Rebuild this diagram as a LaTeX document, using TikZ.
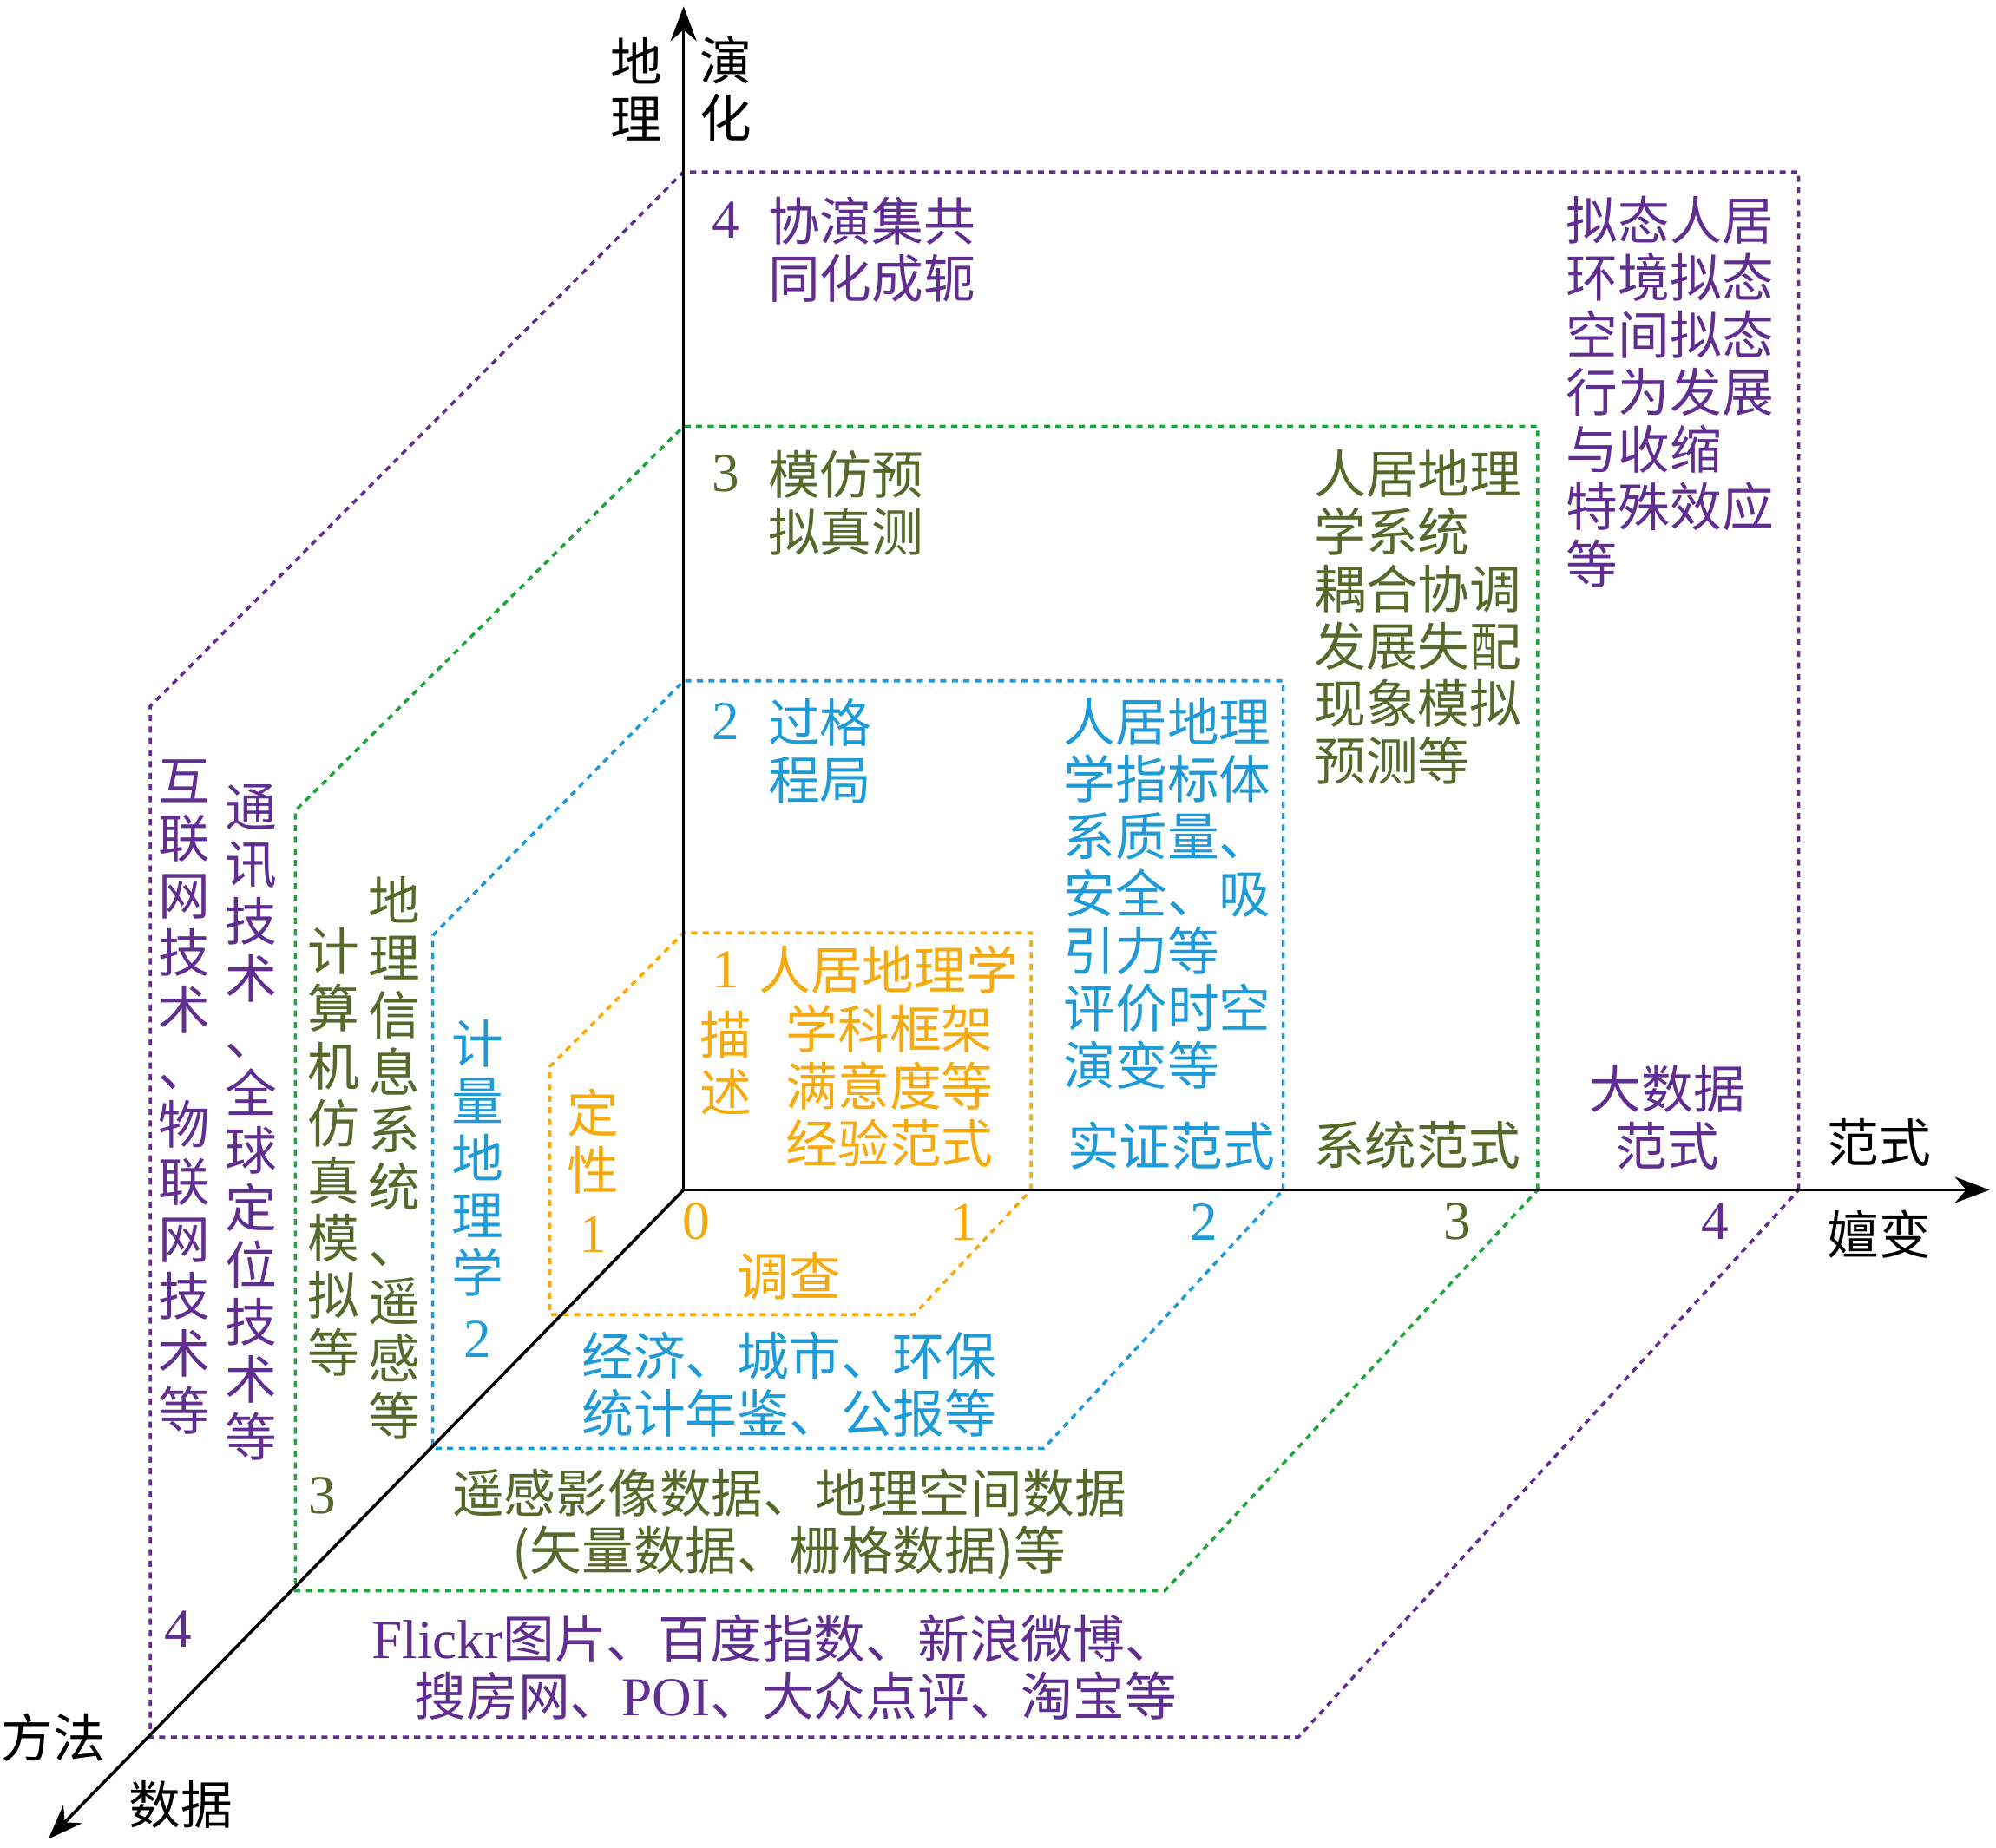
\documentclass[tikz,border=0pt]{standalone}
\usepackage{fontspec}
\setmainfont{Liberation Serif}
\newfontfamily\cjk{Noto Sans CJK SC}
\usetikzlibrary{arrows.meta}
\definecolor{pur}{RGB}{96,45,145}
\definecolor{olv}{RGB}{88,104,42}
\definecolor{grn}{RGB}{30,165,60}
\definecolor{blu}{RGB}{30,155,215}
\definecolor{org}{RGB}{245,170,15}
\newcommand{\fsz}{\fontsize{17pt}{18.8pt}\selectfont}
\newcommand{\lat}[1]{{\fontsize{18pt}{18.8pt}\selectfont\rmfamily #1}}

\begin{document}
\begin{tikzpicture}[x=0.1467mm, y=-0.1467mm,
  txt/.style={font=\fsz\cjk, inner sep=0pt},
  num/.style={font=\fontsize{18pt}{20pt}\selectfont\rmfamily, inner sep=0pt},
  lvl/.style={line width=1pt, dash pattern=on 2pt off 1.8pt},
  axis/.style={line width=1pt, -{Stealth[length=4mm,width=3mm]}}]
\useasboundingbox (0,0) rectangle (1568,1452);
% level 1
\draw[lvl, org] (810,935) -- (810,733) -- (537,733) -- (432,838) -- (432,1033) -- (718,1033) -- cycle;
\node[num, org] (o0) at (547,960) {0};
\node[num, org] (o1x) at (757,960) {1};
\node[num, org] (o1d) at (466,970) {1};
\node[num, org] (o1y) at (570,762) {1};
\node[txt, org] (o1t) at (698,762) {人居地理学};
\node[txt, org, align=left, anchor=west] (o1b) at (617,853) {学科框架\\满意度等\\经验范式};
\node[txt, org, align=center] (o1m) at (570,835) {描\\述};
\node[txt, org, align=center] (o1l) at (466,897) {定\\性};
\node[txt, org] (o1f) at (620,1003) {调查};
% level 2
\draw[lvl, blu] (1008,935) -- (1008,535) -- (537,535) -- (340,735) -- (340,1138) -- (820,1138) -- cycle;
\node[num, blu] (b2x) at (946,960) {2};
\node[num, blu] (b2d) at (375,1052) {2};
\node[num, blu] (b2y) at (570,567) {2};
\node[txt, blu, align=left, anchor=west] (b2t) at (603,590) {过格\\程局};
\node[txt, blu, align=left, anchor=west] (b2r) at (835,702) {人居地理\\学指标体\\系质量、\\安全、吸\\引力等\\评价时空\\演变等};
\node[txt, blu] (b2p) at (920,900) {实证范式};
\node[txt, blu, align=center] (b2l) at (375,910) {计\\量\\地\\理\\学};
\node[txt, blu, align=center] (b2f) at (620,1088) {经济、城市、环保\\统计年鉴、公报等};
% level 3
\draw[lvl, grn] (1208,935) -- (1208,335) -- (537,335) -- (232,637) -- (232,1250) -- (915,1250) -- cycle;
\node[num, olv] (g3x) at (1145,960) {3};
\node[num, olv] (g3d) at (253,1175) {3};
\node[num, olv] (g3y) at (570,372) {3};
\node[txt, olv, align=left, anchor=west] (g3t) at (603,395) {模仿预\\拟真测};
\node[txt, olv, align=left, anchor=west] (g3r) at (1032,485) {人居地理\\学系统\\耦合协调\\发展失配\\现象模拟\\预测等};
\node[txt, olv] (g3p) at (1113,900) {系统范式};
\node[txt, olv, align=center] (g3a) at (310,910) {地\\理\\信\\息\\系\\统\\、\\遥\\感\\等};
\node[txt, olv, align=center] (g3b) at (262,905) {计\\算\\机\\仿\\真\\模\\拟\\等};
\node[txt, olv, align=center] (g3f) at (620,1198) {遥感影像数据、地理空间数据\\(矢量数据、栅格数据)等};
% level 4
\draw[lvl, pur] (1413,935) -- (1413,135) -- (537,135) -- (118,555) -- (118,1365) -- (1020,1365) -- cycle;
\node[num, pur] (p4x) at (1347,960) {4};
\node[num, pur] (p4d) at (140,1280) {4};
\node[num, pur] (p4y) at (570,173) {4};
\node[txt, pur, align=left, anchor=west] (p4t) at (603,196) {协演集共\\同化成轭};
\node[txt, pur, align=left, anchor=west] (p4r) at (1230,308) {拟态人居\\环境拟态\\空间拟态\\行为发展\\与收缩\\特殊效应\\等};
\node[txt, pur, align=center] (p4p) at (1310,878) {大数据\\范式};
\node[txt, pur, align=center] (p4a) at (197,882) {通\\讯\\技\\术\\、\\全\\球\\定\\位\\技\\术\\等};
\node[txt, pur, align=center] (p4b) at (145,862) {互\\联\\网\\技\\术\\、\\物\\联\\网\\技\\术\\等};
\node[txt, pur, align=right, anchor=east] (p4f) at (925,1310) {\lat{Flickr}图片、百度指数、新浪微博、\\搜房网、\lat{POI}、大众点评、淘宝等};
% axes
\coordinate (O) at (537,935);
\coordinate (ytop) at (537,5);
\coordinate (xend) at (1563,935);
\coordinate (dend) at (38,1445);
\draw[axis] (O) -- (ytop);
\draw[axis] (O) -- (xend);
\draw[axis] (O) -- (dend);
\node[txt, align=center] (geo) at (500,70) {地\\理};
\node[txt, align=center] (evo) at (570,70) {演\\化};
\node[txt] (para) at (1476,898) {范式};
\node[txt] (shan) at (1476,970) {嬗变};
\node[txt] (meth) at (42,1365) {方法};
\node[txt] (data) at (142,1418) {数据};
\end{tikzpicture}
\end{document}
